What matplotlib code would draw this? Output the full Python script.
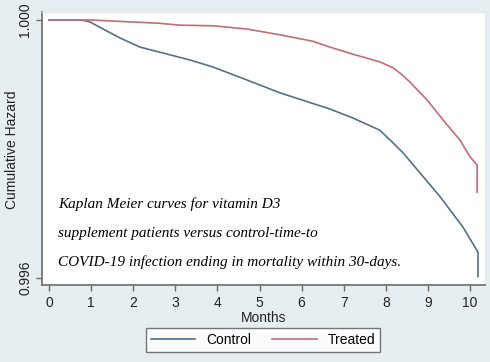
import matplotlib
matplotlib.use("Agg")
import matplotlib.pyplot as plt

# Kaplan-Meier style curves
months_control = [0, 0.78, 0.97, 1.69, 2.16, 3.35, 3.90, 4.70, 5.49, 6.67, 7.22,
                  7.86, 8.10, 8.41, 8.81, 9.29, 9.83, 10.19, 10.19]
hazard_control = [1.0, 1.0, 0.99997, 0.99972, 0.99958, 0.99938, 0.99927, 0.99907,
                  0.99887, 0.99862, 0.99848, 0.99829, 0.99814, 0.99794, 0.99763,
                  0.99726, 0.99679, 0.99640, 0.99602]

months_treated = [0, 1.0, 2.6, 3.11, 3.90, 4.70, 5.49, 6.27, 6.67, 7.22, 7.86,
                  8.17, 8.37, 8.57, 8.98, 9.36, 9.76, 10.0, 10.17, 10.17]
hazard_treated = [1.0, 1.0, 0.99995, 0.99992, 0.99991, 0.99986, 0.99977, 0.99967,
                  0.99958, 0.99947, 0.99935, 0.99926, 0.99916, 0.99904, 0.99876,
                  0.99845, 0.99814, 0.99788, 0.99775, 0.99733]

x_ticks = list(range(0, 11))
y_ticks = [0.996, 1.000]
y_tick_labels = ["0.996", "1.000"]
note_lines = ["Kaplan Meier curves for vitamin D3",
              "supplement patients versus control-time-to",
              "COVID-19 infection ending in mortality within 30-days."]

W, H = 490, 362
bg = "#e7eef1"
axis_col = "#6a6a6a"
plt.rcParams["font.family"] = ["Liberation Sans", "DejaVu Sans"]

fig = plt.figure(figsize=(W / 100, H / 100), dpi=100, facecolor=bg)
ax = fig.add_axes([42 / W, (H - 285) / H, (485 - 42) / W, (285 - 12) / H])
ax.set_facecolor("white")

ax.plot(months_control, hazard_control, color="#52708f", lw=1.2, label="Control")
ax.plot(months_treated, hazard_treated, color="#c26e74", lw=1.2, label="Treated")

ax.set_xlim(-0.166, 10.356)
ax.set_ylim(0.995891, 1.000124)

ax.set_xticks(x_ticks)
ax.set_yticks(y_ticks)
ax.set_yticklabels(y_tick_labels, rotation=90, va="center")
ax.tick_params(axis="both", colors=axis_col, labelcolor="#222222", labelsize=10,
               length=4, width=1)
ax.tick_params(axis="x", pad=4)
ax.tick_params(axis="y", pad=3)

for s in ["top", "right"]:
    ax.spines[s].set_color("#dfe7eb")
for s in ["left", "bottom"]:
    ax.spines[s].set_color(axis_col)
    ax.spines[s].set_linewidth(1.2)

ax.set_xlabel("Months", fontsize=10, color="#222222", labelpad=1)
fig.text(12 / W, 1 - 150 / H, "Cumulative Hazard", rotation=90, fontsize=10,
         color="#222222", ha="center", va="center")

baselines = [208, 237, 266]
for line, yb in zip(note_lines, baselines):
    fig.text(58 / W, 1 - yb / H, line, fontsize=11, style="italic",
             family="Liberation Serif", color="black", va="baseline")

leg = fig.legend(loc="center", bbox_to_anchor=(263 / W, 1 - 340 / H), ncol=2,
                 fontsize=10, frameon=True, fancybox=False, handlelength=3.2,
                 columnspacing=1.5, borderpad=0.35)
leg.get_frame().set_edgecolor("#555555")
leg.get_frame().set_linewidth(1.0)

fig.savefig("out.png", dpi=100, facecolor=bg)
